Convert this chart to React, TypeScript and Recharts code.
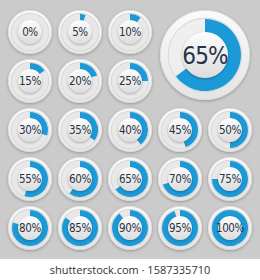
import React from 'react';
import { PieChart, Pie, Cell } from 'recharts';

const SMALL_VALUES = [0, 5, 10, 15, 20, 25, 30, 35, 40, 45, 50, 55, 60, 65, 70, 75, 80, 85, 90, 95, 100];
const SMALL_LABELS = ['0%', '5%', '10%', '15%', '20%', '25%', '30%', '35%', '40%', '45%', '50%', '55%', '60%', '65%', '70%', '75%', '80%', '85%', '90%', '95%', '100%'];
const FEATURED_VALUE = 65;
const FEATURED_LABEL = '65%';
const WATERMARK = 'shutterstock.com · 1587335710';

const W = 260;
const H = 280;
const BLUE = '#1b9ad7';
const TEXT = '#263246';
const FONT = "'DejaVu Sans Condensed', 'DejaVu Sans', sans-serif";

type Spec = { cx: number; cy: number; value: number; label: string; big?: boolean };

function layout(): Spec[] {
  const out: Spec[] = [];
  SMALL_VALUES.forEach((v, i) => {
    let row: number, col: number;
    if (i < 6) {
      row = Math.floor(i / 3);
      col = i % 3;
    } else {
      row = 2 + Math.floor((i - 6) / 5);
      col = (i - 6) % 5;
    }
    out.push({ cx: 30 + col * 50, cy: 32 + row * 49, value: v, label: SMALL_LABELS[i] });
  });
  out.push({ cx: 205, cy: 55, value: FEATURED_VALUE, label: FEATURED_LABEL, big: true });
  return out;
}

function renderCircle(s: Spec, idx: number) {
  const rOuter = s.big ? 45 : 22;
  const ringOut = s.big ? 36 : 18;
  const ringIn = s.big ? 21 : 11;
  const rCenter = s.big ? 23 : 12;
  const fontSize = s.big ? 24 : 11.5;
  const ringData = [{ v: s.value }, { v: 100 - s.value }];
  const common = { cx: s.cx, cy: s.cy, dataKey: 'v', isAnimationActive: false, stroke: 'none', startAngle: 90, endAngle: -270 } as any;
  const one = [{ v: 1 }];
  const labelFn = () => (
    <text x={s.cx} y={s.cy} dy="0.36em" textAnchor="middle" fill={TEXT} fontSize={fontSize} fontFamily={FONT} style={{ fontStretch: 'condensed', letterSpacing: s.big ? -0.8 : -0.4 }} key={`l${idx}`}>
      {s.label}
    </text>
  );
  return [
    <Pie key={`o${idx}`} {...common} data={one} innerRadius={0} outerRadius={rOuter} className="disk-shadow">
      <Cell fill="url(#gOuter)" />
    </Pie>,
    <Pie key={`ob${idx}`} {...common} data={one} innerRadius={rOuter - 0.7} outerRadius={rOuter}>
      <Cell fill="#d9d9d9" />
    </Pie>,
    <Pie key={`t${idx}`} {...common} data={one} innerRadius={ringIn} outerRadius={ringOut + 1}>
      <Cell fill={s.big ? '#efefef' : '#e8e8e8'} />
    </Pie>,
    <Pie key={`tb${idx}`} {...common} data={one} innerRadius={ringOut + 0.3} outerRadius={ringOut + 1.2}>
      <Cell fill="#d6d6d6" />
    </Pie>,
    <Pie key={`b${idx}`} {...common} data={ringData} innerRadius={ringIn} outerRadius={ringOut}>
      <Cell fill={BLUE} />
      <Cell fill="rgba(0,0,0,0)" />
    </Pie>,
    <Pie key={`c${idx}`} {...common} data={one} innerRadius={0} outerRadius={rCenter} className="center-shadow" label={labelFn} labelLine={false}>
      <Cell fill="url(#gCenter)" />
    </Pie>,
  ];
}

export default function App() {
  const specs = layout();
  return (
    <div style={{ position: 'absolute', left: 0, top: 0, width: W, height: H, background: '#ffffff' }}>
      <style>{`
        .disk-shadow .recharts-pie-sector { filter: drop-shadow(0.8px 1.5px 1.5px rgba(0,0,0,0.28)); }
        .center-shadow .recharts-pie-sector { filter: drop-shadow(0.5px 1px 1px rgba(0,0,0,0.25)); }
      `}</style>
      <div style={{ position: 'absolute', left: 0, top: 0, width: W, height: 259, background: '#cbcbcb' }} />
      <div style={{ position: 'absolute', left: 0, top: 0 }}>
        <PieChart width={W} height={H} margin={{ top: 0, right: 0, bottom: 0, left: 0 }}>
          <defs>
            <linearGradient id="gOuter" x1="0" y1="0" x2="0" y2="1">
              <stop offset="0%" stopColor="#fbfbfb" />
              <stop offset="100%" stopColor="#e4e4e4" />
            </linearGradient>
            <linearGradient id="gCenter" x1="0" y1="0" x2="0" y2="1">
              <stop offset="0%" stopColor="#fdfdfd" />
              <stop offset="100%" stopColor="#dcdcdc" />
            </linearGradient>
          </defs>
          {specs.flatMap((s, i) => renderCircle(s, i))}
        </PieChart>
      </div>
      <div style={{ position: 'absolute', left: 0, top: 262, width: W, textAlign: 'center', fontFamily: "'Open Sans', sans-serif", fontSize: 11, color: '#333', lineHeight: '16px' }}>
        {WATERMARK}
      </div>
    </div>
  );
}
